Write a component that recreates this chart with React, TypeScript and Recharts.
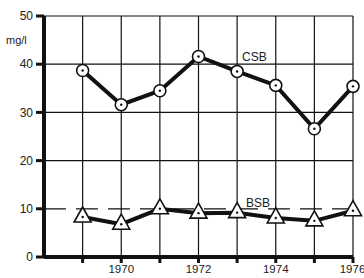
import { LineChart, Line, XAxis, YAxis, ReferenceLine } from 'recharts'

const years = [1969, 1970, 1971, 1972, 1973, 1974, 1975, 1976]
const csb = [38.7, 31.6, 34.5, 41.6, 38.5, 35.6, 26.6, 35.4]
const bsb = [8.3, 6.8, 10.0, 9.1, 9.2, 8.1, 7.5, 9.6]
const yTicks = [0, 10, 20, 30, 40, 50]
const solidLevels = [20, 30, 40, 50]
const dashedLevel = 10

const data = years.map((year, i) => ({ year, csb: csb[i], bsb: bsb[i] }))

const INK = '#111'
const font = '"Liberation Sans", Arial, sans-serif'

function CircleDot(props: any) {
  const { cx, cy, index } = props
  if (cx == null || cy == null) return null
  return (
    <g key={`c-${index}`}>
      <circle cx={cx} cy={cy} r={6} fill="#fff" stroke={INK} strokeWidth={1.6} />
      <circle cx={cx} cy={cy} r={1.2} fill={INK} />
    </g>
  )
}

function TriangleDot(props: any) {
  const { cx, cy, index } = props
  if (cx == null || cy == null) return null
  const pts = `${cx},${cy - 10} ${cx + 8.5},${cy + 5} ${cx - 8.5},${cy + 5}`
  return (
    <g key={`t-${index}`}>
      <polygon points={pts} fill="#fff" stroke={INK} strokeWidth={1.6} strokeLinejoin="miter" />
      <circle cx={cx} cy={cy} r={1.2} fill={INK} />
    </g>
  )
}

const labelStyle: React.CSSProperties = {
  position: 'absolute',
  fontFamily: font,
  fontSize: 12,
  color: '#222',
  lineHeight: '12px',
}

export default function App() {
  return (
    <div style={{ position: 'absolute', left: 0, top: 0, width: 364, height: 278, background: '#fff' }}>
      <LineChart
        width={364}
        height={278}
        data={data}
        margin={{ top: 16, right: 11, left: 0, bottom: 0 }}
      >
        <XAxis
          dataKey="year"
          type="number"
          domain={[1968, 1976]}
          ticks={years}
          tickFormatter={(v: number) => (v % 2 === 0 ? String(v) : '')}
          height={21}
          tickSize={6}
          tickMargin={2}
          axisLine={{ stroke: INK, strokeWidth: 4 }}
          tickLine={{ stroke: INK, strokeWidth: 3 }}
          tick={{ fill: '#222', fontSize: 11.5, fontFamily: font }}
        />
        <YAxis
          type="number"
          domain={[0, 50]}
          ticks={yTicks}
          width={44}
          tickSize={8}
          tickMargin={3}
          axisLine={{ stroke: INK, strokeWidth: 4 }}
          tickLine={{ stroke: INK, strokeWidth: 3 }}
          tick={{ fill: '#222', fontSize: 12, fontFamily: font }}
        />
        {years.map((y) => (
          <ReferenceLine key={`v${y}`} x={y} stroke={INK} strokeWidth={1.2} />
        ))}
        {solidLevels.map((l) => (
          <ReferenceLine key={`h${l}`} y={l} stroke={INK} strokeWidth={1.2} />
        ))}
        <ReferenceLine y={dashedLevel} stroke={INK} strokeWidth={1.2} strokeDasharray="22 10" />
        <Line
          dataKey="csb"
          stroke={INK}
          strokeWidth={4}
          dot={CircleDot}
          activeDot={false}
          isAnimationActive={false}
        />
        <Line
          dataKey="bsb"
          stroke={INK}
          strokeWidth={4}
          dot={TriangleDot}
          activeDot={false}
          isAnimationActive={false}
        />
      </LineChart>
      <div style={{ ...labelStyle, left: 6, top: 34, fontSize: 11 }}>mg/l</div>
      <div style={{ ...labelStyle, left: 242, top: 51 }}>CSB</div>
      <div style={{ ...labelStyle, left: 246, top: 197 }}>BSB</div>
    </div>
  )
}
